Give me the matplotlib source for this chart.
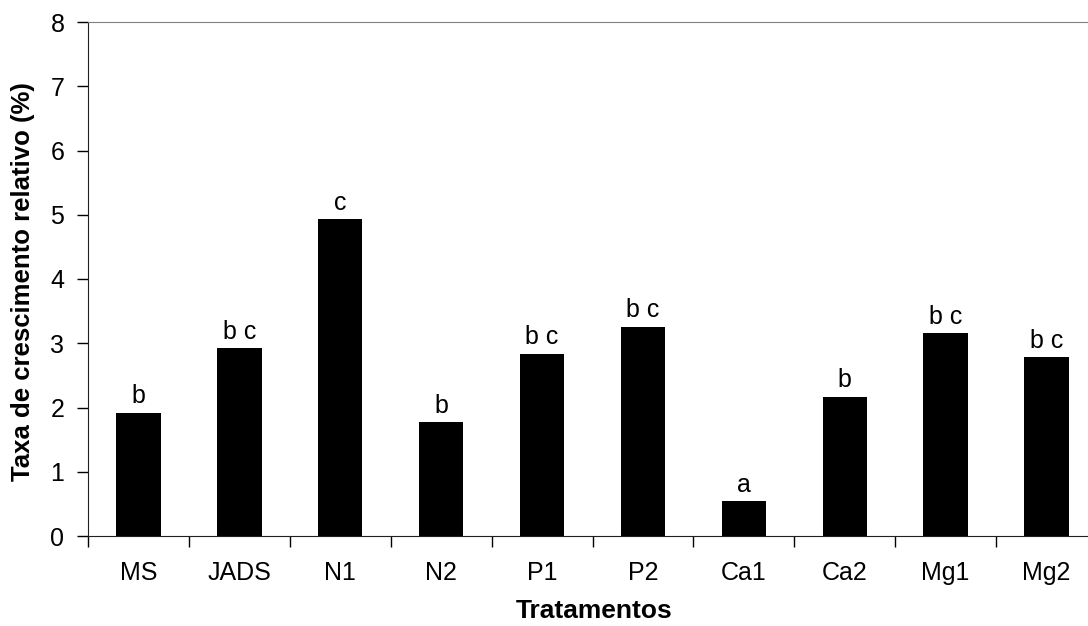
import matplotlib.pyplot as plt
import numpy as np

plt.rcParams['font.family'] = ['Liberation Sans', 'DejaVu Sans']

tratamentos = ['MS', 'JADS', 'N1', 'N2', 'P1', 'P2', 'Ca1', 'Ca2', 'Mg1', 'Mg2']
taxa = [1.92, 2.92, 4.93, 1.77, 2.84, 3.26, 0.545, 2.17, 3.16, 2.78]
letras = ['b', 'b c', 'c', 'b', 'b c', 'b c', 'a', 'b', 'b c', 'b c']

fig = plt.figure(figsize=(10.88, 6.26), dpi=100)
ax = fig.add_axes([88 / 1088, 90 / 626, 1009 / 1088, 514 / 626])

x = np.arange(len(tratamentos)) + 0.5
bars = ax.bar(x, taxa, width=0.44, color='black')

for xi, v, s in zip(x, taxa, letras):
    ax.annotate(s, (xi, v), xytext=(0, 3), textcoords='offset points',
                ha='center', va='bottom', fontsize=18)

ax.set_xlim(0, len(tratamentos))
ax.set_ylim(0, 8)
ax.set_yticks(range(0, 9))

# category boundaries carry the tick marks, centres carry the labels
ax.set_xticks(np.arange(len(tratamentos) + 1))
ax.set_xticklabels([])
ax.set_xticks(x, minor=True)
ax.set_xticklabels(tratamentos, minor=True)
ax.tick_params(axis='x', which='major', direction='out', length=8, width=1)
ax.tick_params(axis='x', which='minor', length=0, pad=18, labelsize=18)
ax.tick_params(axis='y', direction='out', length=8, width=1, pad=9, labelsize=18)

ax.spines['right'].set_visible(False)
ax.spines['top'].set_color('#808080')
for side in ['left', 'bottom']:
    ax.spines[side].set_color('#202020')

ax.set_ylabel('Taxa de crescimento relativo (%)', fontsize=18.5, fontweight='bold')
ax.set_xlabel('Tratamentos', fontsize=19, fontweight='bold')
ax.yaxis.set_label_coords(23 / 1088, (626 - 282) / 626, transform=fig.transFigure)
ax.xaxis.set_label_coords(594 / 1088, 3 / 626, transform=fig.transFigure)
ax.xaxis.label.set_va('bottom')
ax.yaxis.label.set_va('center')

fig.savefig('out.png', dpi=100)
